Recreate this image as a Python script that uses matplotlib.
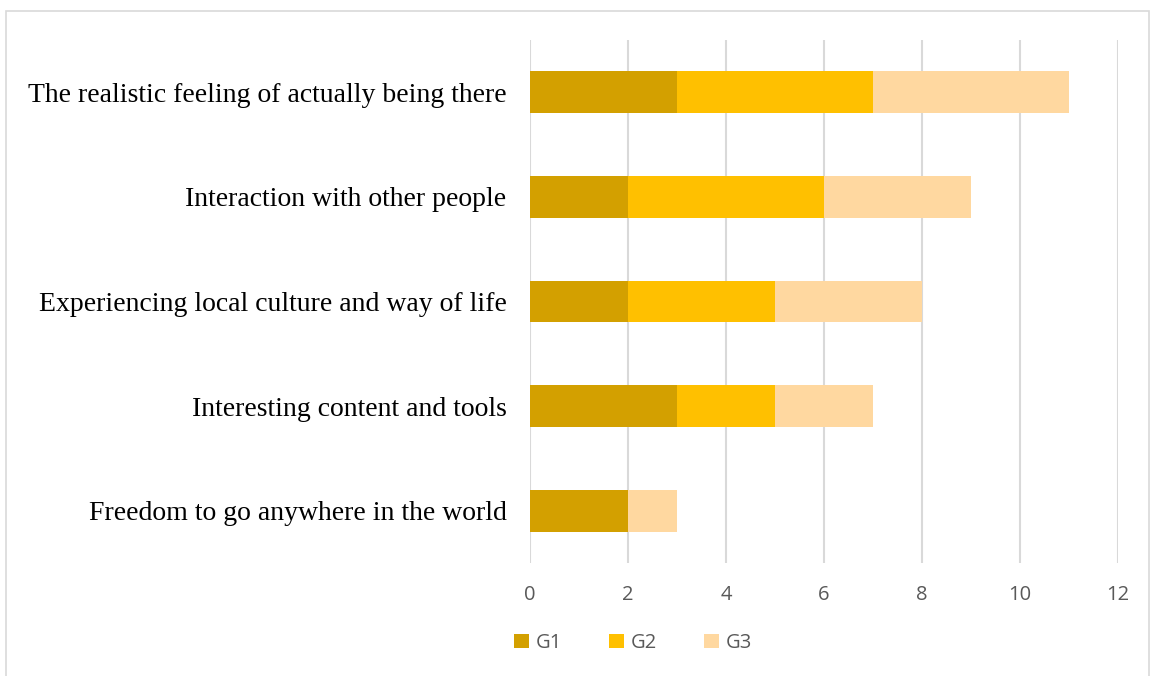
import matplotlib.pyplot as plt
from matplotlib.patches import Rectangle
import numpy as np

#%% --- Data ---

categories = ["Freedom to go anywhere in the world",
              "Interesting content and tools",
              "Experiencing local culture and way of life",
              "Interaction with other people",
              "The realistic feeling of actually being there"]
g1 = [2, 3, 2, 2, 3]
g2 = [0, 2, 3, 4, 4]
g3 = [1, 2, 3, 3, 4]
series_names = ["G1", "G2", "G3"]
colors = ["#d3a000", "#ffc000", "#ffd8a0"]

#%% --- Figure ---

W, H = 1151, 676
fig = plt.figure(figsize=(W / 100, H / 100), dpi=100)
ax = fig.add_axes([530 / W, 1 - 563 / H, (1118 - 530) / W, (563 - 40) / H])

fig.patches.append(Rectangle((6 / W, -0.1), (1149 - 6) / W, 1.1 - 11 / H,
                             transform=fig.transFigure, fill=False,
                             edgecolor="#d9d9d9", linewidth=1.2))

y = np.arange(len(categories))
left = np.zeros(len(categories))
for vals, name, c in zip([g1, g2, g3], series_names, colors):
    ax.barh(y, vals, left=left, height=0.4, color=c, label=name, zorder=3)
    left += np.array(vals)

ax.set_xlim(0, 12)
ax.set_ylim(-0.5, 4.5)
ax.set_xticks(range(0, 13, 2))
ax.set_yticks(y)
ax.set_yticklabels(categories, fontfamily="Liberation Serif", fontsize=20,
                   color="black")
ax.tick_params(axis="y", length=0, pad=17)
ax.tick_params(axis="x", length=0, pad=16, labelsize=14.5, labelcolor="#595959")
for lbl in ax.get_xticklabels():
    lbl.set_fontfamily("Open Sans")

ax.grid(axis="x", color="#d9d9d9", linewidth=1.5, zorder=0)
for s in ax.spines.values():
    s.set_visible(False)

leg = ax.legend(loc="center", bbox_to_anchor=(633 / W, 1 - 643 / H),
                bbox_transform=fig.transFigure, ncol=3, frameon=False,
                handlelength=0.75, handleheight=0.75, handletextpad=0.35,
                columnspacing=2.3, prop={"family": "Open Sans", "size": 14.5})
for t in leg.get_texts():
    t.set_color("#595959")

fig.savefig("out.png", dpi=100)
